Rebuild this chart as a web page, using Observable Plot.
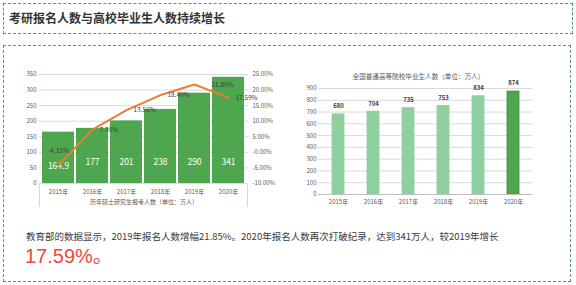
<!DOCTYPE html>
<html>
<head>
<meta charset="utf-8">
<script src="https://cdn.jsdelivr.net/npm/d3@7"></script>
<script src="https://cdn.jsdelivr.net/npm/@observablehq/plot@0.6"></script>
<style>
  html, body { margin: 0; padding: 0; background: #ffffff; }
  #page { position: relative; width: 576px; height: 285px; overflow: hidden;
          font-family: "Noto Sans CJK SC", "Noto Sans", sans-serif; }
  .box { position: absolute; border: 1.5px dashed #5b8f86; box-sizing: border-box; }
  #titleBox { left: 3px; top: 3px; width: 570px; height: 31px; }
  #mainBox { left: 3px; top: 45px; width: 568px; height: 237px; }
  #title { position: absolute; left: 9px; top: 10px; font-size: 12px; font-weight: bold; color: #333; white-space: nowrap; line-height: 16px; }
  #desc { position: absolute; left: 26px; top: 230px; font-size: 9.5px; color: #3a3a3a; white-space: nowrap; line-height: 13px; }
  #big { position: absolute; left: 25px; top: 243px; font-size: 20px; color: #f0473c; white-space: nowrap; line-height: 26px; font-family: "Liberation Sans", "Noto Sans CJK SC", sans-serif; }
  #leftChart { position: absolute; left: 0; top: 0; }
  #rightChart { position: absolute; left: 285px; top: 0; }
  #axisBox { position: absolute; left: 39px; top: 183px; width: 209px; height: 24px;
             border-left: 1px solid #d9d9d9; border-right: 1px solid #d9d9d9; box-sizing: border-box; }
</style>
</head>
<body>
<div id="page">
  <div class="box" id="titleBox"></div>
  <div class="box" id="mainBox"></div>
  <div id="title">考研报名人数与高校毕业生人数持续增长</div>
  <div id="axisBox"></div>
  <div id="leftChart"></div>
  <div id="rightChart"></div>
  <div id="desc">教育部的数据显示，2019年报名人数增幅21.85%。2020年报名人数再次打破纪录，达到341万人，较2019年增长</div>
  <div id="big">17.59%。</div>
</div>
<script>
// ---- data ----
const years = ["2015年", "2016年", "2017年", "2018年", "2019年", "2020年"];
const applicants = [164.9, 177, 201, 238, 290, 341];          // 万人
const growth = [-4.12, 7.30, 13.56, 18.40, 21.80, 17.59];      // %
const graduates = [680, 704, 735, 753, 834, 874];             // 万人
const leftTicks = [0, 50, 100, 150, 200, 250, 300, 350];
const pctTicks = [-10, -5, 0, 5, 10, 15, 20, 25];
const rightTicks = [0, 100, 200, 300, 400, 500, 600, 700, 800, 900];
const leftAxisTitle = "历年硕士研究生报考人数（单位：万人）";
const rightTitle = "全国普通高等院校毕业生人数（单位：万人）";

const font = "'Noto Sans CJK SC', 'Noto Sans', sans-serif";

const table = years.map((year, i) => ({year, applicants: applicants[i], growth: growth[i]}));
const table2 = years.map((year, i) => ({year, graduates: graduates[i]}));

// secondary (percent) axis mapped onto the primary y scale
const pct2y = d3.scaleLinear([pctTicks[0], pctTicks[pctTicks.length - 1]], [leftTicks[0], leftTicks[leftTicks.length - 1]]);
const pctLabel = d => d.growth.toFixed(2) + "%";

const left = Plot.plot({
  width: 285, height: 215,
  marginTop: 74, marginBottom: 32, marginLeft: 39, marginRight: 37,
  x: {domain: years, paddingInner: 0.05, paddingOuter: 0.05},
  y: {domain: [0, 350]},
  style: {fontFamily: font, fontSize: "6px", color: "#595959", background: "transparent", overflow: "visible"},
  marks: [
    Plot.gridY(leftTicks, {stroke: "#d9d9d9", strokeOpacity: 1}),
    Plot.barY(table, {x: "year", y: "applicants", fill: "#4ea64e"}),
    Plot.axisY(leftTicks, {tickSize: 0, tickPadding: 3, label: null, fontSize: 6}),
    Plot.axisY(pctTicks.map(pct2y), {anchor: "right", tickSize: 0, tickPadding: 4, label: null, fontSize: 6,
      tickFormat: v => pct2y.invert(v).toFixed(2) + "%"}),
    Plot.axisX({tickSize: 0, tickPadding: 6, label: null, fontSize: 6}),
    Plot.text(table, {filter: (d, i) => i === 0, x: "year", text: d => String(d.applicants), frameAnchor: "bottom", dy: -15,
      fill: "white", fontSize: 8.5}),
    Plot.text(table, {filter: (d, i) => i > 0, x: "year", text: d => String(d.applicants), frameAnchor: "bottom", dy: -19,
      fill: "white", fontSize: 8.5}),
    Plot.line(table, {x: "year", y: d => pct2y(d.growth), stroke: "#ed7d31", strokeWidth: 2}),
    Plot.text(table, {filter: (d, i) => i === 0, x: "year", y: d => pct2y(d.growth), text: pctLabel,
      dy: -14, fill: "#404040", fontSize: 6.5}),
    Plot.text(table, {filter: (d, i) => i === 4, x: "year", y: d => pct2y(d.growth), text: pctLabel,
      dx: 17, textAnchor: "start", fill: "#404040", fontSize: 6.5}),
    Plot.text(table, {filter: (d, i) => i > 0 && i !== 4, x: "year", y: d => pct2y(d.growth), text: pctLabel,
      dx: 7, textAnchor: "start", fill: "#404040", fontSize: 6.5}),
    Plot.text([leftAxisTitle], {frameAnchor: "bottom", dy: 20, fill: "#595959", fontSize: 6})
  ]
});
document.getElementById("leftChart").appendChild(left);

const right = Plot.plot({
  width: 291, height: 215,
  marginTop: 88, marginBottom: 21, marginLeft: 33, marginRight: 44,
  x: {domain: years, paddingInner: 0.67, paddingOuter: 0.335},
  y: {domain: [0, 900]},
  style: {fontFamily: font, fontSize: "6px", color: "#595959", background: "transparent", overflow: "visible"},
  marks: [
    Plot.gridY(rightTicks, {stroke: "#d9d9d9", strokeOpacity: 1}),
    Plot.barY(table2, {x: "year", y: "graduates",
      fill: (d, i) => i === years.length - 1 ? "#4ea64e" : "#8fd0a0",
      stroke: (d, i) => i === years.length - 1 ? "#3d8c3d" : "#8fd0a0", strokeWidth: 0.8}),
    Plot.ruleY([0], {stroke: "#bfbfbf"}),
    Plot.axisY(rightTicks, {tickSize: 0, tickPadding: 2, label: null, fontSize: 6}),
    Plot.axisX({tickSize: 0, tickPadding: 5, label: null, fontSize: 6}),
    Plot.text(table2, {x: "year", y: "graduates", text: d => String(d.graduates), dy: -8,
      fill: "#404040", fontSize: 6, fontWeight: "bold"}),
    Plot.text([rightTitle], {frameAnchor: "top", dx: -7, dy: -14, fill: "#595959", fontSize: 6.6})
  ]
});
document.getElementById("rightChart").appendChild(right);
</script>
</body>
</html>
